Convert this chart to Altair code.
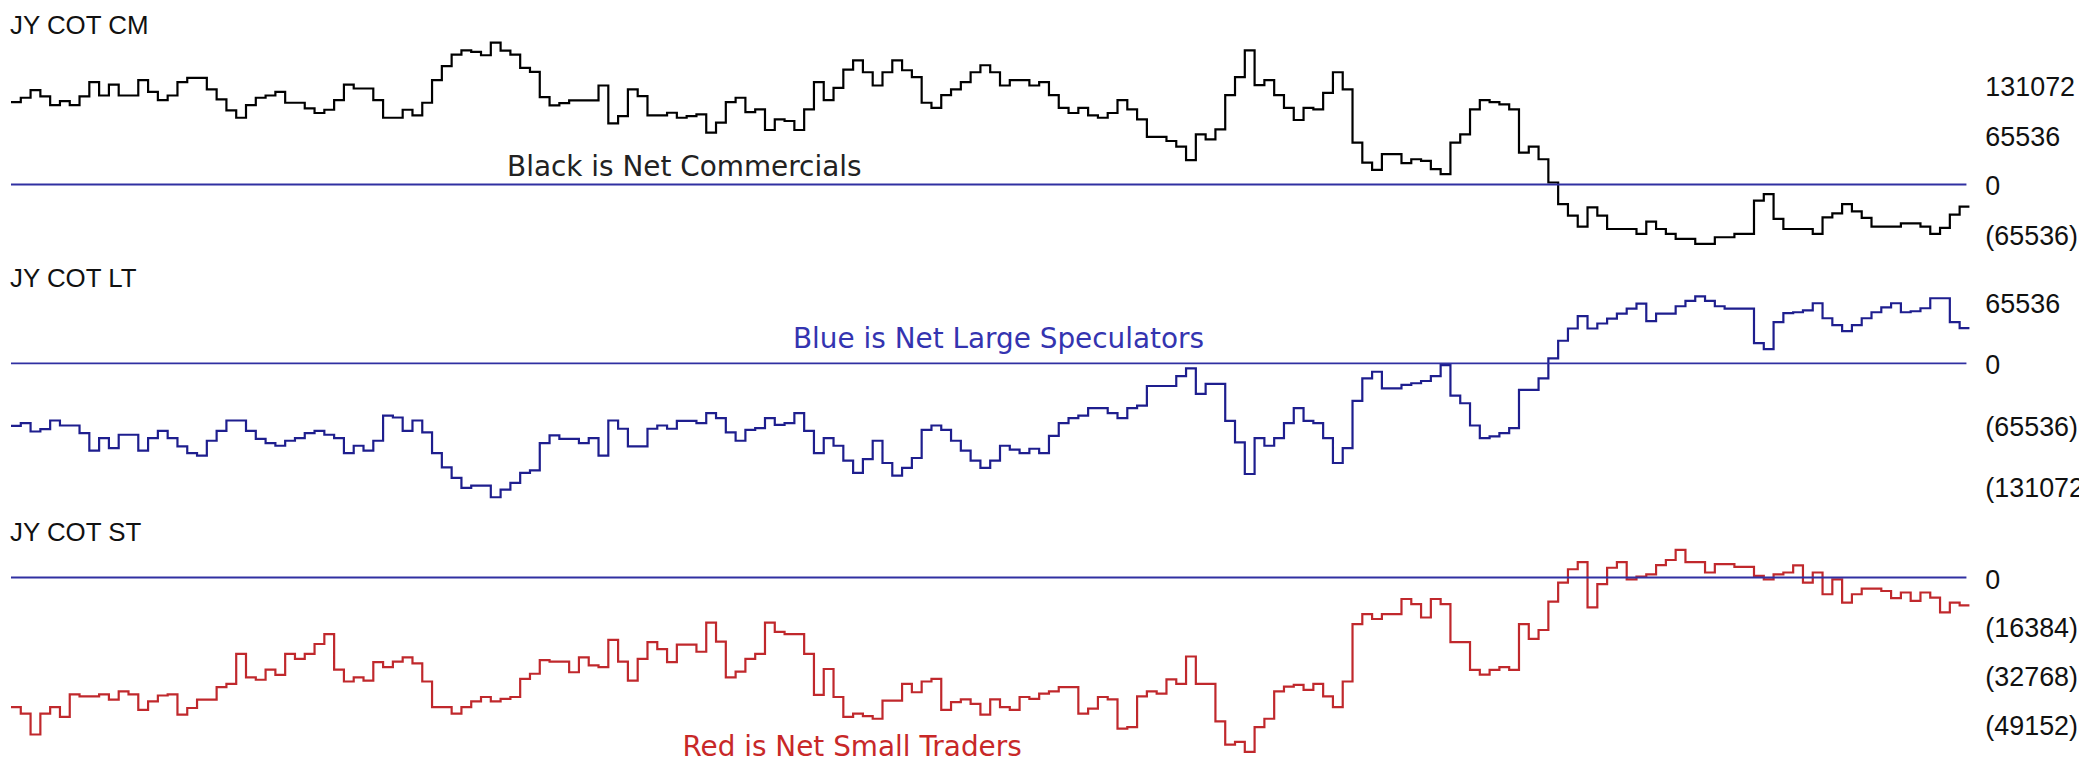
import altair as alt
import pandas as pd

# ---- data (weekly net positions) ----
cm_net = [108400, 114100, 124100, 115800, 104400, 109700, 104400, 115800, 134600, 117100,
          131500, 117100, 117100, 137200, 121900, 111000, 117100, 134600, 140300, 140300,
          125000, 111900, 97500, 87800, 104400, 114100, 117100, 121900, 107500, 107500,
          100100, 94000, 98300, 111000, 131500, 126300, 126300, 111000, 87800, 87800,
          98300, 90900, 107500, 137200, 155600, 170900, 176500, 174400, 170000, 186600,
          176100, 170900, 153400, 148100, 114900, 104000, 107100, 110600, 110600, 110600,
          130200, 80400, 90000, 125000, 116200, 90900, 90900, 94400, 87800, 90000,
          92200, 68200, 81300, 108400, 114100, 95300, 98800, 71700, 85700, 83500,
          71700, 98800, 134600, 111000, 127200, 151200, 163400, 147700, 130200, 147700,
          163400, 150300, 141200, 107500, 100900, 117600, 125000, 134600, 147700, 156900,
          147700, 130200, 137200, 137200, 130200, 134600, 117600, 100900, 94000, 100900,
          90900, 87800, 94000, 111000, 98800, 85700, 62500, 62500, 57200, 49800,
          31900, 66000, 59400, 72500, 117600, 141200, 176500, 130700, 137200, 117600,
          100900, 84800, 100900, 98800, 120600, 147700, 125000, 55100, 28800, 19200,
          39800, 39800, 28000, 33200, 31000, 20100, 13500, 55100, 66000, 98800,
          111000, 108400, 105300, 98800, 42000, 49800, 33200, 2600, -25800, -41100,
          -55500, -30200, -41100, -58600, -58600, -58600, -65100, -48900, -58600, -65100,
          -71700, -71700, -78200, -78200, -69500, -69500, -65100, -65100, -21400, -12700,
          -45400, -58600, -58600, -58600, -65100, -43300, -38000, -25800, -35400, -44100,
          -55500, -55500, -55500, -51100, -51100, -55500, -65100, -57200, -39800, -29300]

lt_net = [-66600, -63700, -72600, -70100, -60900, -66200, -66200, -74300, -93100, -79700,
          -90300, -76100, -76100, -93100, -79700, -71900, -79700, -88500, -95600, -98400,
          -82500, -71900, -60900, -60900, -71900, -80400, -85000, -87800, -82500, -79700,
          -74300, -71900, -76100, -79700, -95600, -87800, -93100, -82500, -55600, -57700,
          -71900, -60900, -73600, -95600, -110800, -122100, -132800, -130300, -130300, -142700,
          -134500, -127400, -116800, -114000, -85000, -76800, -80400, -80400, -85000, -79700,
          -98400, -60900, -69700, -88500, -88500, -69700, -66200, -69700, -61200, -61200,
          -63700, -53100, -58400, -73600, -82500, -70800, -69000, -58400, -65500, -63700,
          -53100, -71900, -95600, -79700, -87800, -103700, -116800, -102000, -82500, -106200,
          -119700, -111500, -100900, -70800, -66200, -70800, -82500, -93100, -103700, -111500,
          -103700, -87800, -92000, -95600, -91000, -95600, -77200, -63700, -58400, -55600,
          -47800, -47800, -53100, -58400, -47800, -45000, -24100, -24100, -24100, -13500,
          -5300, -32600, -21900, -21900, -61200, -84300, -117900, -79700, -87800, -79700,
          -63700, -47800, -61200, -63700, -79700, -106200, -90300, -40000, -15900, -8900,
          -26600, -26600, -23000, -21200, -18800, -13500, -1800, -34300, -42500, -66200,
          -79700, -77900, -74300, -69000, -28300, -28300, -15900, 5300, 24100, 37200,
          50300, 37200, 42500, 47800, 53100, 58400, 63700, 45000, 53100, 53100,
          60900, 66600, 71500, 66600, 60900, 58400, 58400, 58400, 21600, 15200,
          43900, 53500, 54500, 56600, 64100, 48100, 40700, 34300, 40700, 48100,
          54500, 59800, 64100, 54500, 55600, 58800, 69400, 69400, 43900, 37500]

st_net = [-43500, -45700, -52700, -45700, -43500, -46800, -39200, -39900, -39900, -39200,
          -41000, -38200, -39200, -44400, -41600, -39600, -39200, -46000, -43800, -41000,
          -41000, -36800, -35700, -25600, -33500, -34300, -30900, -32700, -25600, -27300,
          -25600, -22300, -19000, -30900, -34900, -33500, -34600, -28400, -30100, -28200,
          -26800, -28800, -34900, -43500, -43500, -45700, -43500, -41600, -40100, -41600,
          -40700, -40100, -34000, -32300, -27700, -28200, -28200, -31800, -26800, -29500,
          -30100, -20900, -28200, -34600, -27300, -21700, -24000, -28400, -22500, -22500,
          -24900, -15100, -21500, -33500, -31600, -27300, -25600, -15100, -18200, -19000,
          -19000, -25600, -39400, -30700, -40100, -46800, -45700, -46500, -47400, -41300,
          -41300, -35700, -38500, -34900, -34000, -44400, -41800, -40900, -42400, -46000,
          -40900, -43500, -44400, -40100, -40700, -39000, -38200, -36800, -36800, -45700,
          -44000, -40100, -40900, -50700, -50200, -39900, -38200, -39000, -34200, -35700,
          -26500, -35700, -35700, -48300, -56100, -55200, -58500, -50200, -47400, -38200,
          -36600, -36000, -37700, -35700, -39900, -43500, -34900, -15600, -12300, -13900,
          -12300, -12300, -7200, -8900, -13400, -7200, -8900, -21700, -21700, -31000,
          -32600, -31000, -30100, -31000, -15600, -20600, -17600, -8100, -1700, 2800,
          5200, -10000, -2200, 3300, 5200, -600, 300, 1100, 4200, 5900,
          9300, 5200, 5200, 1700, 4500, 4500, 3600, 3600, 600, -600,
          1100, 1700, 4100, -1700, 1700, -5600, -600, -8400, -5600, -3700,
          -3700, -4500, -6900, -5000, -7800, -5000, -6700, -11700, -8400, -9300]

cm_ticks = [131072, 65536, 0, -65536]
lt_ticks = [65536, 0, -65536, -131072]
st_ticks = [0, -16384, -32768, -49152]

panel_titles = ["JY COT CM", "JY COT LT", "JY COT ST"]
notes = ["Black is Net Commercials", "Blue is Net Large Speculators", "Red is Net Small Traders"]

# ---- styling ----
W, H = 1966, 757
LABEL_FONT = "Liberation Sans"
NOTE_FONT = "DejaVu Sans"
ZERO_COLOR = "#3030a2"

N = len(cm_net)
weeks = list(range(N + 1))


def series_df(vals):
    return pd.DataFrame({"week": weeks, "value": vals + [vals[-1]]})


def tick_df(vals):
    return pd.DataFrame({"value": vals,
                         "label": [f"({abs(v)})" if v < 0 else str(v) for v in vals]})


X = alt.X("week:Q", scale=alt.Scale(domain=[0, N], nice=False, zero=False), axis=None)


def panel(vals, ticks, domain, color, title, title_y, note, note_x, note_y, note_color):
    Y = alt.Y("value:Q", scale=alt.Scale(domain=domain, nice=False, zero=False), axis=None)
    line = alt.Chart(series_df(vals)).mark_line(
        interpolate="step-after", color=color, strokeWidth=2.2
    ).encode(x=X, y=Y)
    zero = alt.Chart(pd.DataFrame({"value": [0]})).mark_rule(
        color=ZERO_COLOR, strokeWidth=2
    ).encode(x=alt.value(0), x2=alt.value(1963), y=Y)
    labels = alt.Chart(tick_df(ticks)).mark_text(
        align="left", baseline="alphabetic", dy=11, font=LABEL_FONT, fontSize=27, color="#111111"
    ).encode(x=alt.value(1982), y=Y, text="label:N")
    ttl = alt.Chart(pd.DataFrame({"t": [title]})).mark_text(
        align="left", baseline="alphabetic", font=LABEL_FONT, fontSize=26, color="#111111"
    ).encode(x=alt.value(-1), y=alt.value(title_y), text="t:N")
    nt = alt.Chart(pd.DataFrame({"t": [note]})).mark_text(
        align="left", baseline="alphabetic", font=NOTE_FONT, fontSize=28, color=note_color
    ).encode(x=alt.value(note_x), y=alt.value(note_y), text="t:N")
    return alt.layer(line, zero, labels, ttl, nt)


p1 = panel(cm_net, cm_ticks, [-762100, 230300], "#000000", panel_titles[0], 25,
           notes[0], 498, 167, "#222222")
p2 = panel(lt_net, lt_ticks, [-426600, 377300], "#1e1e8e", panel_titles[1], 279,
           notes[1], 785, 340, "#3434b0")
p3 = panel(st_net, st_ticks, [-62450, 190800], "#c0282c", panel_titles[2], 534,
           notes[2], 674, 749, "#c82828")

chart = alt.layer(p1, p2, p3).resolve_scale(y="independent").properties(
    width=W, height=H,
    autosize=alt.AutoSizeParams(type="none"),
    padding={"left": 3, "top": 0, "right": 110, "bottom": 0},
    background="white",
).configure_view(stroke=None)

chart.save("out.html", embed_options={"renderer": "svg", "actions": False})
